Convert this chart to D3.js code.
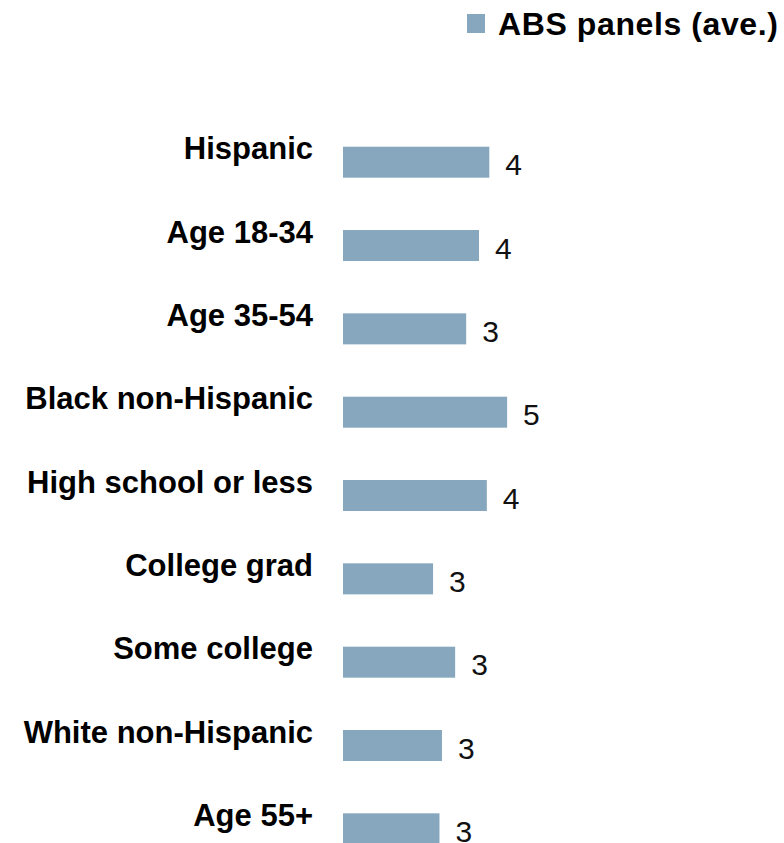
<!DOCTYPE html>
<html>
<head>
<meta charset="utf-8">
<script src="https://cdn.jsdelivr.net/npm/d3@7"></script>
<style>
  html, body { margin: 0; padding: 0; background: #fff; }
  svg { display: block; }
  text { font-family: "Liberation Sans", Arial, sans-serif; }
</style>
</head>
<body>
<svg id="chart" width="784" height="843"></svg>
<script>
// Groups, top to bottom
const categories = [
  "Hispanic",
  "Age 18-34",
  "Age 35-54",
  "Black non-Hispanic",
  "High school or less",
  "College grad",
  "Some college",
  "White non-Hispanic",
  "Age 55+"
];

// ABS panels (average), one value per group
const absPanels = [4.11, 3.82, 3.46, 4.61, 4.04, 2.53, 3.15, 2.78, 2.71];

const seriesName = "ABS panels (ave.)";
const barColor = "#86a7be";

const svg = d3.select("#chart");

const x = d3.scaleLinear().domain([0, 5]).range([343, 521]);

// One row per group; each bar sits at the top of its row
const rowStep = 83.33;
const barHeight = 31;
const y = d3.scaleBand()
  .domain(categories)
  .range([146.7, 146.7 + rowStep * categories.length])
  .padding(0);

const rows = categories.map((c, i) => ({ label: c, value: absPanels[i] }));

// Bars
svg.append("g")
  .selectAll("rect")
  .data(rows)
  .join("rect")
  .attr("x", x(0))
  .attr("y", d => y(d.label))
  .attr("width", d => x(d.value) - x(0))
  .attr("height", barHeight)
  .attr("fill", barColor);

// Group names, right-aligned, sitting above each bar's centre
svg.append("g")
  .selectAll("text")
  .data(rows)
  .join("text")
  .attr("x", 313)
  .attr("y", d => y(d.label) + 12.6)
  .attr("text-anchor", "end")
  .attr("font-size", 31)
  .attr("font-weight", "bold")
  .attr("fill", "#000")
  .text(d => d.label);

// Value labels
svg.append("g")
  .selectAll("text")
  .data(rows)
  .join("text")
  .attr("x", d => x(d.value) + 16)
  .attr("y", d => y(d.label) + 28.6)
  .attr("font-size", 30)
  .attr("fill", "#111")
  .text(d => Math.round(d.value));

// Legend
const legend = svg.append("g");
legend.append("rect")
  .attr("x", 467).attr("y", 14)
  .attr("width", 18).attr("height", 19)
  .attr("fill", barColor);
legend.append("text")
  .attr("x", 498).attr("y", 35)
  .attr("font-size", 32)
  .attr("font-weight", "bold")
  .attr("letter-spacing", 0.6)
  .attr("fill", "#000")
  .text(seriesName);
</script>
</body>
</html>
